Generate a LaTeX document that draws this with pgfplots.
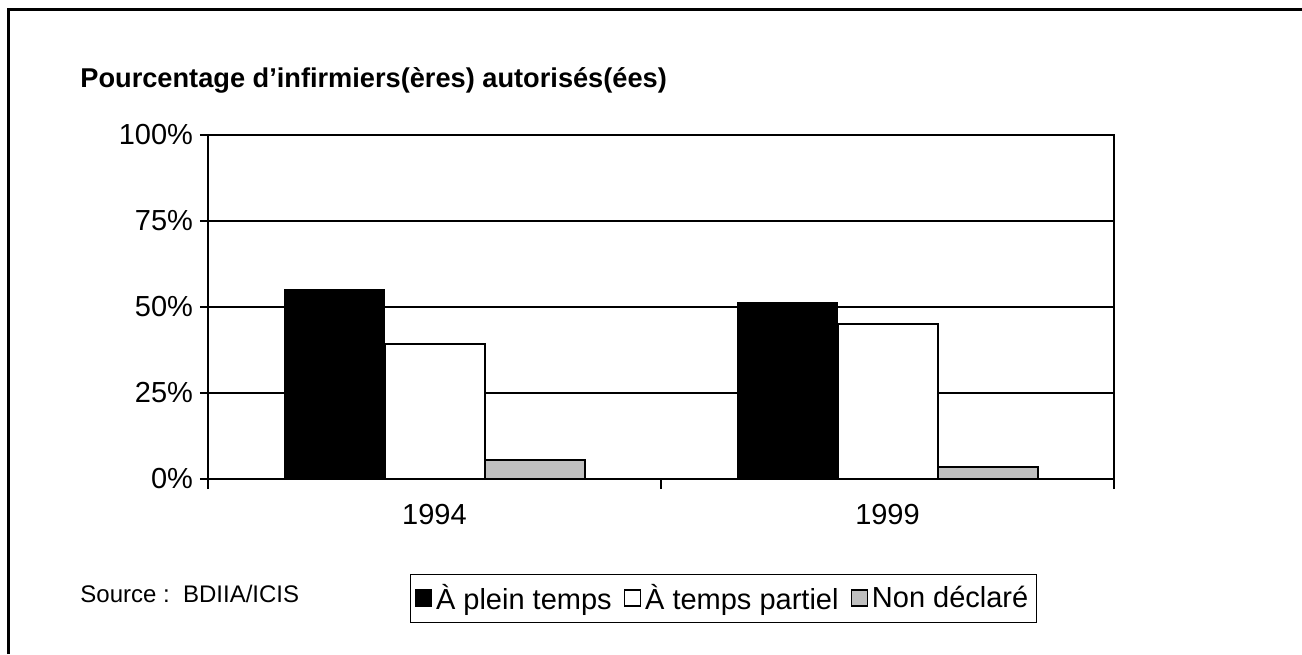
\documentclass[border=0pt]{standalone}
\usepackage{fontspec}
\setmainfont{Liberation Sans}
\usepackage{pgfplots}
\pgfplotsset{compat=1.18}
\begin{document}
\begin{tikzpicture}[x=0.5pt,y=0.5pt]
\useasboundingbox (0,0) rectangle (1302,654);
\draw[line width=1.5pt] (8,0) -- (8,644) -- (1302,644);
\node[anchor=base west, inner sep=0pt, font=\bfseries\fontsize{13.6}{15}\selectfont] at (80,566) {Pourcentage d'infirmiers(ères) autorisés(ées)};
\node[anchor=west, inner sep=0pt, font=\fontsize{12}{14}\selectfont] at (80,60) {Source~:~~BDIIA/ICIS};
\begin{axis}[
  at={(104pt,87.5pt)}, anchor=south west,
  scale only axis, width=453pt, height=172pt,
  ybar=0pt, bar width=50pt,
  xmin=-0.5, xmax=1.5, ymin=0, ymax=100,
  xtick={0,1}, xticklabels={1994,1999},
  minor xtick={-0.5,0.5,1.5},
  major x tick style={draw=none},
  tick align=outside, xtick pos=lower, ytick pos=left,
  major tick length=4pt, minor tick length=5pt,
  ytick={0,25,50,75,100},
  yticklabels={0\%,25\%,50\%,75\%,100\%},
  ymajorgrids, grid style={black, line width=1.1pt},
  axis line style={line width=1.1pt},
  every tick/.style={black, line width=1pt},
  tick label style={font=\fontsize{14.5}{16}\selectfont},
  x tick label style={yshift=-5pt},
  legend style={at={(0.223,-0.276)}, anchor=north west, legend columns=3, draw=black, line width=0.6pt,
    font=\fontsize{14.5}{16}\selectfont, inner xsep=2pt, inner ysep=3pt,
    /tikz/every even column/.append style={column sep=4pt}},
  legend image code/.code={\draw[#1, line width=0.7pt] (0pt,-3.6pt) rectangle (8pt,4.4pt);},
]
\addplot[fill=black, draw=black] coordinates {(0,55.2) (1,51.3)};
\addplot[fill=white, draw=black, line width=1pt] coordinates {(0,39.2) (1,45.1)};
\addplot[fill=gray!50, draw=black, line width=1pt] coordinates {(0,5.6) (1,3.6)};
\legend{À plein temps, À temps partiel, Non déclaré}
\end{axis}
\end{tikzpicture}
\end{document}
